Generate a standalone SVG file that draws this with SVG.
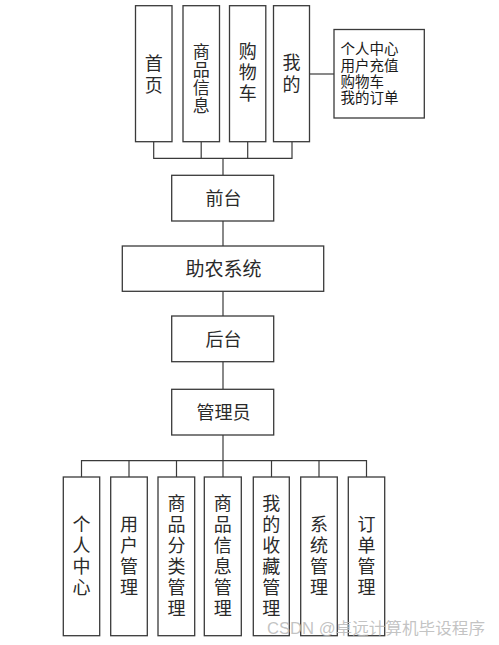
<svg xmlns="http://www.w3.org/2000/svg" width="499" height="645" viewBox="0 0 499 645">
<style>
.box{fill:#fff;stroke:#3a3a3a;stroke-width:1.3}
.ln{fill:none;stroke:#3a3a3a;stroke-width:1.2}
.t{font-family:"Liberation Sans","Noto Sans CJK SC",sans-serif;font-size:18px;fill:#2a2a2a;text-anchor:middle}
.s{font-family:"Liberation Sans","Noto Sans CJK SC",sans-serif;font-size:14.5px;fill:#1a1a1a}
.wm{font-family:"Liberation Sans","Noto Sans CJK SC",sans-serif;font-size:16px;fill:#b8b8b8;fill-opacity:0.85}
</style>
<rect width="499" height="645" fill="#fff"/>
<g id="connectors">
<polyline class="ln" points="153.7,141.7 153.7,158.3 292,158.3 292,141.7"/>
<line class="ln" x1="201.2" y1="141.7" x2="201.2" y2="158.3"/>
<line class="ln" x1="247.7" y1="141.7" x2="247.7" y2="158.3"/>
<line class="ln" x1="223" y1="158.3" x2="223" y2="175.3"/>
<line class="ln" x1="309.5" y1="74" x2="334" y2="74"/>
<line class="ln" x1="223" y1="221" x2="223" y2="246"/>
<line class="ln" x1="223" y1="291.3" x2="223" y2="316"/>
<line class="ln" x1="223" y1="361.7" x2="223" y2="389.3"/>
<line class="ln" x1="223" y1="435" x2="223" y2="460.7"/>
<polyline class="ln" points="81.5,477 81.5,460.7 366.5,460.7 366.5,477"/>
<line class="ln" x1="129" y1="460.7" x2="129" y2="477"/>
<line class="ln" x1="176.5" y1="460.7" x2="176.5" y2="477"/>
<line class="ln" x1="223" y1="460.7" x2="223" y2="477"/>
<line class="ln" x1="271.5" y1="460.7" x2="271.5" y2="477"/>
<line class="ln" x1="319" y1="460.7" x2="319" y2="477"/>
</g>
<g id="n-home"><rect class="box" x="135.5" y="5.7" width="36.5" height="136"/>
<text class="t"><tspan x="153.7" y="70">首</tspan><tspan x="153.7" y="91.7">页</tspan></text></g>
<g id="n-goods"><rect class="box" x="183" y="5.7" width="36.5" height="136"/>
<text class="t" style="font-size:17px"><tspan x="201.2" y="57.6">商</tspan><tspan x="201.2" y="75.6">品</tspan><tspan x="201.2" y="93.6">信</tspan><tspan x="201.2" y="111.6">息</tspan></text></g>
<g id="n-cart"><rect class="box" x="229.5" y="5.7" width="36.3" height="136"/>
<text class="t"><tspan x="247.7" y="57.8">购</tspan><tspan x="247.7" y="78.8">物</tspan><tspan x="247.7" y="99.8">车</tspan></text></g>
<g id="n-mine"><rect class="box" x="273.5" y="5.7" width="36" height="136"/>
<text class="t"><tspan x="291.5" y="69.4">我</tspan><tspan x="291.5" y="91.1">的</tspan></text></g>
<g id="n-mine-list"><rect class="box" x="334" y="29.5" width="90.3" height="88.5"/>
<text class="s"><tspan x="340.5" y="53.8">个人中心</tspan><tspan x="340.5" y="70.5">用户充值</tspan><tspan x="340.5" y="86.5">购物车</tspan><tspan x="340.5" y="103.2">我的订单</tspan></text></g>
<g id="n-front"><rect class="box" x="171.7" y="175.3" width="102" height="45.7"/>
<text class="t" x="223.5" y="205">前台</text></g>
<g id="n-system"><rect class="box" x="122.3" y="246" width="201.4" height="45.3"/>
<text class="t" x="223.5" y="276" style="font-size:19px">助农系统</text></g>
<g id="n-back"><rect class="box" x="171.7" y="316" width="102" height="45.7"/>
<text class="t" x="223.5" y="345.8">后台</text></g>
<g id="n-admin"><rect class="box" x="171.7" y="389.3" width="102" height="45.7"/>
<text class="t" x="223.5" y="418.5">管理员</text></g>
<g id="b1"><rect class="box" x="63.3" y="477" width="36.4" height="158.7"/>
<text class="t"><tspan x="81.5" y="531.3">个</tspan><tspan x="81.5" y="552.3">人</tspan><tspan x="81.5" y="573.3">中</tspan><tspan x="81.5" y="594.3">心</tspan></text></g>
<g id="b2"><rect class="box" x="110.7" y="477" width="36.6" height="158.7"/>
<text class="t"><tspan x="129" y="531.3">用</tspan><tspan x="129" y="552.3">户</tspan><tspan x="129" y="573.3">管</tspan><tspan x="129" y="594.3">理</tspan></text></g>
<g id="b3"><rect class="box" x="158" y="477" width="36.7" height="158.7"/>
<text class="t"><tspan x="176.4" y="510.3">商</tspan><tspan x="176.4" y="531.3">品</tspan><tspan x="176.4" y="552.3">分</tspan><tspan x="176.4" y="573.3">类</tspan><tspan x="176.4" y="594.3">管</tspan><tspan x="176.4" y="615.3">理</tspan></text></g>
<g id="b4"><rect class="box" x="204.3" y="477" width="37" height="158.7"/>
<text class="t"><tspan x="222.8" y="510.3">商</tspan><tspan x="222.8" y="531.3">品</tspan><tspan x="222.8" y="552.3">信</tspan><tspan x="222.8" y="573.3">息</tspan><tspan x="222.8" y="594.3">管</tspan><tspan x="222.8" y="615.3">理</tspan></text></g>
<g id="b5"><rect class="box" x="253.3" y="477" width="36" height="158.7"/>
<text class="t"><tspan x="271.3" y="510.3">我</tspan><tspan x="271.3" y="531.3">的</tspan><tspan x="271.3" y="552.3">收</tspan><tspan x="271.3" y="573.3">藏</tspan><tspan x="271.3" y="594.3">管</tspan><tspan x="271.3" y="615.3">理</tspan></text></g>
<g id="b6"><rect class="box" x="300.7" y="477" width="36.6" height="158.7"/>
<text class="t"><tspan x="319" y="531.3">系</tspan><tspan x="319" y="552.3">统</tspan><tspan x="319" y="573.3">管</tspan><tspan x="319" y="594.3">理</tspan></text></g>
<g id="b7"><rect class="box" x="348.3" y="477" width="36.4" height="158.7"/>
<text class="t"><tspan x="366.5" y="531.3">订</tspan><tspan x="366.5" y="552.3">单</tspan><tspan x="366.5" y="573.3">管</tspan><tspan x="366.5" y="594.3">理</tspan></text></g>
<text class="wm" x="267" y="634" textLength="218" lengthAdjust="spacingAndGlyphs">CSDN @卓远计算机毕设程序</text>
</svg>
